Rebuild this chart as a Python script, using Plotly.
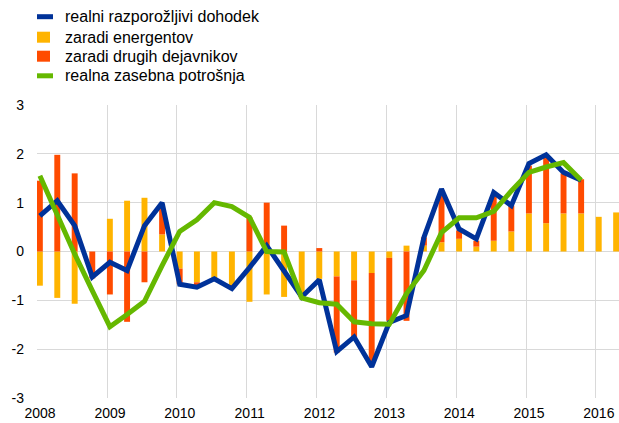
import pandas as pd
import plotly.graph_objects as go

# Quarter labels
bar_quarters = [f"{y}Q{q}" for y in range(2008, 2017) for q in range(1, 5)][:34]
line_quarters = bar_quarters[:32]

income = [0.73, 1.04, 0.53, -0.52,
          -0.22, -0.39, 0.53, 1.00,
          -0.67, -0.73, -0.56, -0.76,
          -0.33, 0.12, -0.40, -0.93,
          -0.58, -2.05, -1.75, -2.36,
          -1.45, -1.31, 0.29, 1.28,
          0.46, 0.26, 1.21, 0.94,
          1.80, 1.98, 1.62, 1.46]

energy = [-0.70, -0.95, -1.07, 0.00,
          0.67, 1.04, 1.10, 0.35,
          -0.35, -0.63, -0.55, -0.70,
          -1.03, -0.88, -0.93, -0.96,
          -0.56, -0.51, -0.59, -0.44,
          -0.13, 0.12, 0.12, 0.19,
          0.26, 0.10, 0.22, 0.41,
          0.78, 0.58, 0.78, 0.78,
          0.71, 0.80]

other = [1.45, 1.98, 1.60, -0.55,
         -0.88, -1.44, -0.63, 0.62,
         -0.32, -0.07, -0.02, -0.03,
         0.70, 1.00, 0.53, 0.00,
         0.07, -1.56, -1.16, -1.82,
         -1.29, -1.42, 0.17, 0.95,
         0.17, 0.12, 0.92, 0.53,
         0.98, 1.35, 0.82, 0.70,
         0.0, 0.0]

consumption = [1.55, 0.73, -0.05, -0.80,
               -1.54, -1.29, -1.02, -0.29,
               0.41, 0.65, 1.00, 0.92,
               0.70, 0.00, -0.01, -0.95,
               -1.05, -1.08, -1.44, -1.48,
               -1.49, -0.86, -0.39, 0.39,
               0.69, 0.69, 0.82, 1.24,
               1.62, 1.73, 1.82, 1.46]

names = ["realni razporožljivi dohodek", "zaradi energentov",
         "zaradi drugih dejavnikov", "realna zasebna potrošnja"]
year_ticks = list(range(2008, 2017))
y_ticks = [-3, -2, -1, 0, 1, 2, 3]
y_ticktext = ["-3", "-2", "-1", "0", "1", "2", "3"]


def qdate(label):
    p = pd.Period(label, freq="Q")
    return p.start_time + pd.Timedelta(days=15)


xb = [qdate(q) for q in bar_quarters]
xl = [qdate(q) for q in line_quarters]

BLUE = "#003299"
YELLOW = "#FFB400"
RED = "#FF4B00"
GREEN = "#65B800"
colors = [BLUE, YELLOW, RED, GREEN]
kinds = ["line", "box", "box", "line"]

bar_w = 31 * 86400000

W, H = 619, 423
ML, MR, MT, MB = 37, 0, 105, 25
PW, PH = W - ML - MR, H - MT - MB


def pxx(x):
    return (x - ML) / PW


def pxy(y):
    return (H - MB - y) / PH


fig = go.Figure()
fig.add_trace(go.Scatter(x=xl, y=income, mode="lines", name=names[0],
                         line=dict(color=BLUE, width=5)))
fig.add_trace(go.Bar(x=xb, y=energy, name=names[1],
                     marker=dict(color=YELLOW, line=dict(width=0)), width=bar_w))
fig.add_trace(go.Bar(x=xb, y=other, name=names[2],
                     marker=dict(color=RED, line=dict(width=0)), width=bar_w))
fig.add_trace(go.Scatter(x=xl, y=consumption, mode="lines", name=names[3],
                         line=dict(color=GREEN, width=5)))

# manual legend
row_y = [16.7, 37.2, 56.2, 75.8]
shapes = []
annotations = []
for name, col, kind, yy in zip(names, colors, kinds, row_y):
    if kind == "line":
        shapes.append(dict(type="line", xref="paper", yref="paper",
                           x0=pxx(37), x1=pxx(53), y0=pxy(yy), y1=pxy(yy),
                           line=dict(color=col, width=5)))
    else:
        shapes.append(dict(type="rect", xref="paper", yref="paper",
                           x0=pxx(37), x1=pxx(50), y0=pxy(yy - 5.5), y1=pxy(yy + 5.5),
                           fillcolor=col, line=dict(width=0)))
    annotations.append(dict(text=name, xref="paper", yref="paper",
                            x=pxx(63), y=pxy(yy), xanchor="left", yanchor="middle",
                            showarrow=False, font=dict(size=16, color="#000000")))

font = "Liberation Sans, Arial, sans-serif"
fig.update_layout(
    width=W, height=H,
    margin=dict(l=ML, r=MR, t=MT, b=MB, pad=0, autoexpand=False),
    paper_bgcolor="white", plot_bgcolor="white",
    barmode="relative",
    font=dict(family=font, size=14, color="#000000"),
    showlegend=False,
    shapes=shapes,
    annotations=annotations,
    xaxis=dict(type="date", range=["2008-01-01", "2016-05-01"],
               tickvals=[pd.Timestamp(f"{y}-01-01") for y in year_ticks],
               ticktext=[str(y) for y in year_ticks],
               showgrid=True, gridcolor="#d9d9d9", gridwidth=1,
               zeroline=False, showline=False, ticks="",
               ticklabelstandoff=5, ticklabelshift=3, automargin=False),
    yaxis=dict(range=[-3, 3], tickvals=y_ticks, ticktext=y_ticktext,
               showgrid=True, gridcolor="#d9d9d9", gridwidth=1,
               zeroline=True, zerolinecolor="#d9d9d9", zerolinewidth=1,
               showline=False, ticks="", ticklabelstandoff=12, automargin=False),
)

fig.write_html("out.html",
               config={"displayModeBar": False},
               post_script="document.body.style.margin='0';"
                           "document.body.style.overflow='hidden';")
